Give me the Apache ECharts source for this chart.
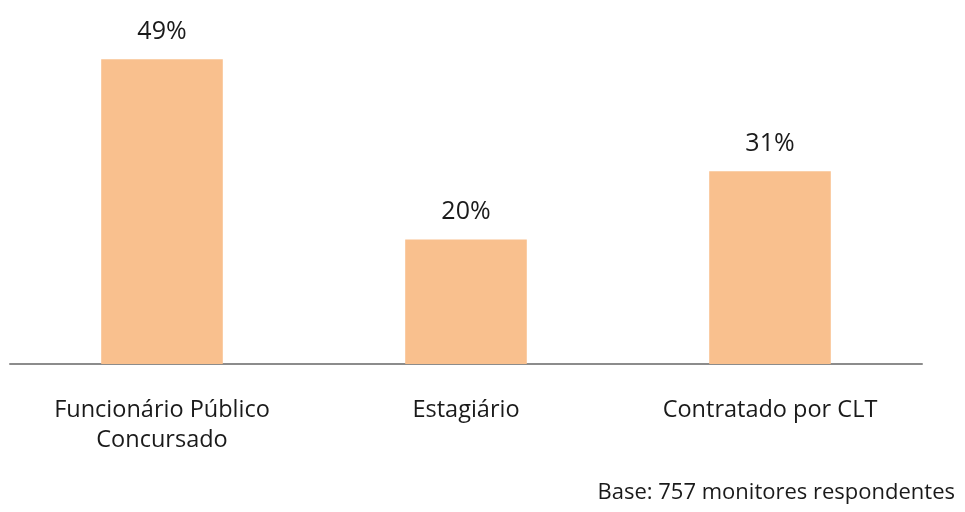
<!DOCTYPE html>
<html>
<head>
<meta charset="utf-8">
<script src="https://cdn.jsdelivr.net/npm/echarts@6/dist/echarts.min.js"></script>
<style>
  html, body { margin: 0; padding: 0; background: #ffffff; }
  #chart { width: 965px; height: 512px; }
</style>
</head>
<body>
<div id="chart"></div>
<script>
// Vínculo empregatício dos monitores
const categories = ['Funcionário Público\nConcursado', 'Estagiário', 'Contratado por CLT'];
const shares = [49, 20, 31];
const footnote = 'Base: 757 monitores respondentes';

const font = '"Open Sans", sans-serif';
const chart = echarts.init(document.getElementById('chart'));
chart.setOption({
  animation: false,
  grid: { left: 10, right: 43, top: 53, bottom: 148, containLabel: false },
  xAxis: {
    type: 'category',
    data: categories,
    axisLine: { lineStyle: { color: '#8c8c8c', width: 2 } },
    axisTick: { show: false },
    axisLabel: { color: '#1a1a1a', fontSize: 23.5, fontFamily: font, lineHeight: 30, margin: 31 }
  },
  yAxis: {
    type: 'value', min: 0, max: 50,
    show: false
  },
  series: [{
    type: 'bar',
    data: shares,
    barWidth: '40%',
    itemStyle: { color: '#F9C08E' },
    label: {
      show: true, position: 'top', distance: 15,
      formatter: '{c}%', color: '#1a1a1a', fontSize: 25, fontFamily: font
    }
  }],
  graphic: [{
    type: 'text', right: 10, top: 482,
    style: { text: footnote, fill: '#1a1a1a', fontSize: 22, fontFamily: font }
  }]
});
</script>
</body>
</html>
